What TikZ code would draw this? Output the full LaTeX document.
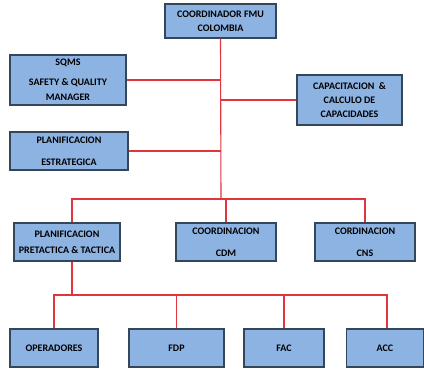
\documentclass[tikz,border=0pt]{standalone}
\usepackage{fontspec}
\setmainfont{Carlito}
\usetikzlibrary{positioning}

\begin{document}
\begin{tikzpicture}[x=1pt,y=-1pt]
  \definecolor{azulcaja}{HTML}{8DB3E2}
  \definecolor{bordecaja}{HTML}{34465A}
  \definecolor{rojolinea}{HTML}{E2343C}
  \tikzstyle{Caja}=[draw=bordecaja,line width=1.1pt,fill=azulcaja,
    inner sep=0pt,align=center,font=\fontsize{10}{14}\selectfont\bfseries,text=black]
  \tikzstyle{Linea}=[draw=rojolinea,line width=1.1pt]
  \useasboundingbox (0,0) rectangle (424,368);

  \node[Caja,minimum width=111,minimum height=34] (coord) at (220.5,21) {COORDINADOR FMU\\COLOMBIA};
  \node[Caja,minimum width=116,minimum height=50] (sqms) at (68,80) {SQMS\\[6pt]SAFETY \& QUALITY\\[1pt]MANAGER};
  \node[Caja,minimum width=105,minimum height=50] (capac) at (349.5,100) {CAPACITACION \ \&\\CALCULO DE\\CAPACIDADES};
  \node[Caja,minimum width=118,minimum height=38] (plane) at (69,151) {PLANIFICACION\\[8pt]ESTRATEGICA};

  \node[Caja,minimum width=106,minimum height=38] (plant) at (67,242) {PLANIFICACION\\[2pt]PRETACTICA \& TACTICA};
  \node[Caja,minimum width=100,minimum height=38] (cdm) at (226,242) {COORDINACION\\[8.5pt]CDM};
  \node[Caja,minimum width=100,minimum height=38] (cns) at (365,242) {CORDINACION\\[8.5pt]CNS};

  \node[Caja,minimum width=88,minimum height=38] (oper) at (54,348) {OPERADORES};
  \node[Caja,minimum width=95,minimum height=38] (fdp) at (176.5,348) {FDP};
  \node[Caja,minimum width=80,minimum height=38] (fac) at (284,348) {FAC};
  \node[Caja,minimum width=77,minimum height=38] (acc) at (385,348) {ACC};

  % tronco principal
  \coordinate (t1) at (221,199);
  \coordinate (t2) at (72,295);
  \draw[Linea] (coord.south) -- (t1);
  \draw[Linea] (sqms.east) -- (sqms.east -| t1);
  \draw[Linea] (capac.west) -- (capac.west -| t1);
  \draw[Linea] (plane.east) -- (plane.east -| t1);

  \draw[Linea] (t1) -| ([xshift=5]plant.north);
  \draw[Linea] (t1) -| (cdm.north);
  \draw[Linea] (t1) -| (cns.north);

  \draw[Linea] ([xshift=5]plant.south) -- (t2);
  \draw[Linea] (t2) -| (oper.north);
  \draw[Linea] (t2) -| (fdp.north);
  \draw[Linea] (t2) -| (fac.north);
  \draw[Linea] (t2) -| ([xshift=2]acc.north);

\end{tikzpicture}
\end{document}
